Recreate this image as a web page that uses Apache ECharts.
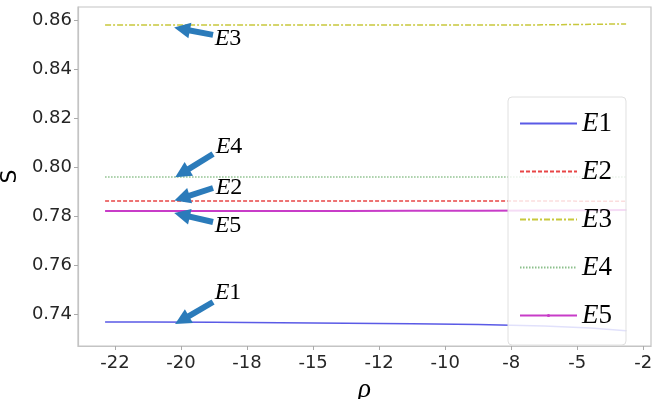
<!DOCTYPE html>
<html><head><meta charset="utf-8">
<script src="https://cdn.jsdelivr.net/npm/echarts@6/dist/echarts.min.js"></script>
<style>html,body{margin:0;padding:0;background:#fff}#c{width:654px;height:399px}</style>
</head><body><div id="c"></div>
<script>
// tick labels of the rho axis (evenly spaced positions 0..8)
const xTickLabels = ['-22','-20','-18','-15','-12','-10','-8','-5','-2'];
const xTickPos = [0,1,2,3,4,5,6,7,8];
const yTicks = [0.74,0.76,0.78,0.80,0.82,0.84,0.86];
// sample positions along the rho axis (in tick-position units)
const rhoPos = [-0.15, 0.5, 1.5, 2.5, 3.5, 4.5, 5.5, 6.5, 7.2, 7.74];
const E1 = [0.7368,0.7368,0.7367,0.7365,0.7363,0.7361,0.7358,0.7352,0.7344,0.7332];
const E2 = [0.7863,0.7863,0.7863,0.7863,0.7863,0.7863,0.7863,0.7863,0.7862,0.7862];
const E3 = [0.8582,0.8582,0.8582,0.8582,0.8582,0.8582,0.8582,0.8583,0.8585,0.8587];
const E4 = [0.7961,0.7961,0.7961,0.7961,0.7961,0.7961,0.7961,0.7961,0.7961,0.7961];
const E5 = [0.7822,0.7822,0.7822,0.7822,0.7822,0.7823,0.7823,0.7824,0.7825,0.7826];
// annotation arrows: [label, tail, tip, text position]
const annotations = [
  ['3', [1.485,0.8542], [1.015,0.8566], [1.712,0.8525]],
  ['4', [1.485,0.8055], [1.015,0.7977], [1.727,0.8084]],
  ['2', [1.485,0.7916], [1.015,0.7875], [1.727,0.7918]],
  ['5', [1.485,0.7777], [1.015,0.7806], [1.712,0.7761]],
  ['1', [1.485,0.7450], [1.015,0.7376], [1.712,0.7489]]
];

const serif = 'Liberation Serif';
function pairs(ys){ return rhoPos.map((x,i)=>[x, ys[i]]); }
const richE = (size)=>({
  i:{fontFamily:serif,fontStyle:'italic',fontSize:size,color:'#000'},
  n:{fontFamily:serif,fontSize:size,color:'#000'}
});

const chart = echarts.init(document.getElementById('c'), null, {renderer:'canvas'});
const gray = '#c4c4c4';
const noSym = {itemStyle:{opacity:0}};
chart.setOption({
  animation:false,
  backgroundColor:'#fff',
  grid:{left:78, right:3, top:7, bottom:53, show:true, borderColor:gray, borderWidth:1.2,
    outerBoundsMode:'none', containLabel:false},
  xAxis:{type:'value', min:-0.56, max:8.117,
    name:'ρ', nameLocation:'middle', nameGap:16,
    nameTextStyle:{fontFamily:serif, fontStyle:'italic', fontSize:27, color:'#000'},
    axisLine:{show:true, onZero:false, lineStyle:{color:gray, width:1.2}},
    axisTick:{show:true, length:4, customValues:xTickPos, lineStyle:{color:'#aaa'}},
    axisLabel:{customValues:xTickPos, margin:8, fontFamily:'DejaVu Sans', fontSize:18, color:'#262626',
      formatter:(v)=>xTickLabels[Math.round(v)]},
    splitLine:{show:false}},
  yAxis:{type:'value', min:0.727, max:0.8656,
    name:'S', nameLocation:'middle', nameGap:52, nameRotate:90,
    nameTextStyle:{fontFamily:'DejaVu Sans', fontSize:22, color:'#000'},
    axisLine:{show:true, onZero:false, lineStyle:{color:gray, width:1.2}},
    axisTick:{show:true, length:4, customValues:yTicks, lineStyle:{color:'#aaa'}},
    axisLabel:{customValues:yTicks, margin:6, fontFamily:'DejaVu Sans', fontSize:18, color:'#262626',
      formatter:(v)=>v.toFixed(2)},
    splitLine:{show:false}},
  legend:{orient:'vertical', left:508, top:97,
    padding:[13,14,16,11], itemGap:21, itemWidth:57, itemHeight:4, itemTextGap:21,
    backgroundColor:'rgba(255,255,255,0.82)', borderColor:'#e0e0e0', borderWidth:1, borderRadius:4,
    formatter:(n)=>'{i|E}{n|'+n.slice(1)+'}',
    textStyle:{lineHeight:24, rich:richE(27)},
    data:[Object.assign({name:'E1'},noSym),Object.assign({name:'E2'},noSym),
          Object.assign({name:'E3'},noSym),Object.assign({name:'E4'},noSym),
          {name:'E5'}]},
  series:[
    {name:'E1', type:'line', data:pairs(E1), showSymbol:false, symbol:'none', color:'#5a5ae6',
      lineStyle:{width:1.5, color:'#5a5ae6'}},
    {name:'E2', type:'line', data:pairs(E2), showSymbol:false, symbol:'none', color:'#e84646',
      lineStyle:{width:1.5, type:[4,2], color:'#e84646'}},
    {name:'E3', type:'line', data:pairs(E3), showSymbol:false, symbol:'none', color:'#c8c83c',
      lineStyle:{width:1.5, type:[6,2,2,2], color:'#c8c83c'}},
    {name:'E4', type:'line', data:pairs(E4), showSymbol:false, symbol:'none', color:'#8cc08c',
      lineStyle:{width:1.3, type:[1.5,1.5], color:'#8cc08c'}},
    {name:'E5', type:'line', data:pairs(E5), showSymbol:false, symbol:'circle', symbolSize:4, color:'#c83cc8',
      lineStyle:{width:2.2, color:'#c83cc8'}},
    {type:'line', data:[], silent:true,
      markLine:{silent:true, symbol:['none','triangle'], symbolSize:16, animation:false,
        lineStyle:{color:'#2b7bba', width:6, type:'solid'}, label:{show:false},
        data:annotations.map(a=>[{coord:a[1]},{coord:a[2]}])},
      markPoint:{silent:true, symbol:'circle', symbolSize:0, animation:false,
        label:{show:true, position:'inside', verticalAlign:'middle', align:'center', rich:richE(24)},
        data:annotations.map(a=>({coord:a[3], value:a[0], label:{formatter:'{i|E}{n|'+a[0]+'}'}}))}
    }
  ]
});
</script></body></html>
